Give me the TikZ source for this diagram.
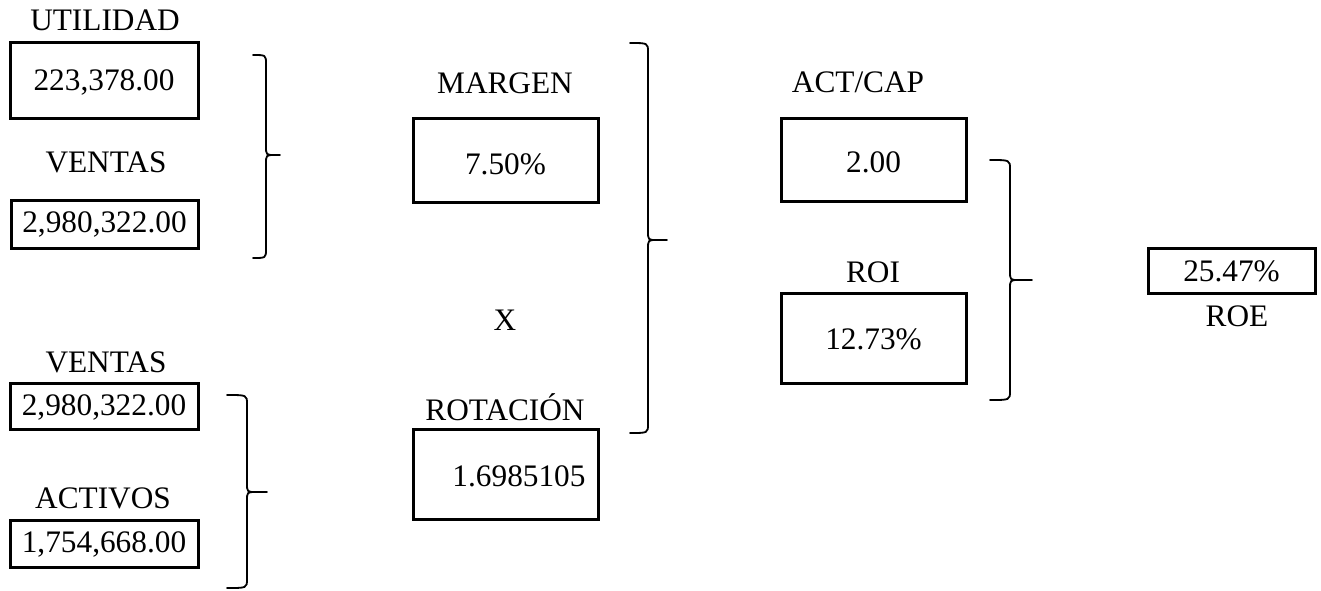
\documentclass[tikz,border=0pt]{standalone}
\usepackage{fontspec}
\setmainfont{Liberation Serif}
\begin{document}
\begin{tikzpicture}[x=1pt,y=-1pt,
  every node/.style={font=\fontsize{31.3}{37}\selectfont, inner sep=0pt, text height=21.2pt, text depth=0pt},
  valbox/.style={draw, line width=3pt},
  lbl/.style={},
  bracepath/.style={line width=1.8pt, line cap=round, line join=round}]
\useasboundingbox (0,0) rectangle (1321,590);
% left column
\node[lbl] (lutil) at (105,20) {UTILIDAD};
\node[valbox, minimum width=188pt, minimum height=76pt] (butil) at (104,80) {223,378.00};
\node[lbl] (lvent1) at (106,162) {VENTAS};
\node[valbox, minimum width=187pt, minimum height=48pt, text depth=4pt] (bvent1) at (104.5,224) {2,980,322.00};
\node[lbl] (lvent2) at (106,362) {VENTAS};
\node[valbox, minimum width=188pt, minimum height=46pt, text depth=3pt] (bvent2) at (104,406) {2,980,322.00};
\node[lbl] (lact) at (103,498) {ACTIVOS};
\node[valbox, minimum width=188pt, minimum height=47pt, text depth=3pt] (bact) at (104,543.5) {1,754,668.00};
% middle column
\node[lbl] (lmarg) at (505,83) {MARGEN};
\node[valbox, minimum width=185pt, minimum height=84pt, text height=28pt] (bmarg) at (505.5,160) {7.50\%};
\node[lbl] (lx) at (505,320) {X};
\node[lbl] (lrot) at (505,410) {ROTACIÓN};
\node[valbox, minimum width=185pt, minimum height=90pt, text height=24pt] (brot) at (505.5,474) {\hspace*{27pt}1.6985105};
% right-middle column
\node[lbl] (lactcap) at (858,82) {ACT/CAP};
\node[valbox, minimum width=185pt, minimum height=83pt, text height=25pt] (bactcap) at (873.5,159.5) {2.00};
\node[lbl] (lroi) at (873,272) {ROI};
\node[valbox, minimum width=185pt, minimum height=90pt, text height=23pt] (broi) at (873.5,338) {12.73\%};
% ROE
\node[valbox, minimum width=167pt, minimum height=45pt] (broe) at (1231.5,270.5) {25.47\%};
\node[lbl] (lroe) at (1237,316) {ROE};
% braces
\def\r{9}
\foreach \xl/\xv/\xt/\yt/\ym/\yb in {253/266/280/55/155/258, 227/247/267/395/492/588, 630/648/667/43/240/433, 990/1010/1032/160/280/400}{
  \draw[bracepath] (\xl,\yt) .. controls (\xv,\yt) .. (\xv,\yt+\r) -- (\xv,\ym-\r)
     .. controls (\xv,\ym) .. (\xv+\r,\ym) -- (\xt,\ym);
  \draw[bracepath] (\xv+\r,\ym) .. controls (\xv,\ym) .. (\xv,\ym+\r) -- (\xv,\yb-\r)
     .. controls (\xv,\yb) .. (\xl,\yb);
}
\end{tikzpicture}
\end{document}
